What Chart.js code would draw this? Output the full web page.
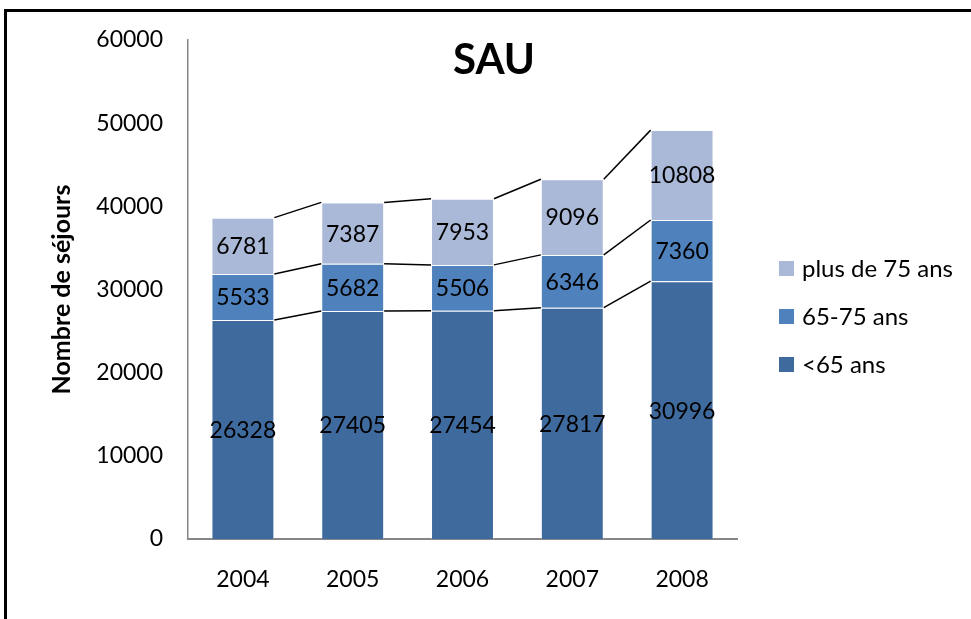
<!DOCTYPE html>
<html>
<head>
<meta charset="utf-8">
<script src="https://cdn.jsdelivr.net/npm/chart.js@4"></script>
<style>
  html, body { margin: 0; padding: 0; background: #fff; }
  #wrap { position: relative; width: 971px; height: 619px; overflow: hidden; }
  canvas { display: block; }
</style>
</head>
<body>
<div id="wrap"><canvas id="c" width="971" height="619"></canvas></div>
<script>
const years = ['2004', '2005', '2006', '2007', '2008'];
const under65 = [26328, 27405, 27454, 27817, 30996];
const age65to75 = [5533, 5682, 5506, 6346, 7360];
const over75 = [6781, 7387, 7953, 9096, 10808];
const seriesNames = ['<65 ans', '65-75 ans', 'plus de 75 ans'];
const seriesColors = ['#3F6A9E', '#4F81BD', '#AAB9D8'];
const chartTitle = 'SAU';
const yAxisTitle = 'Nombre de séjours';

const FONT = 'Lato, "Open Sans", sans-serif';

const framePlugin = {
  id: 'frame',
  beforeDraw(chart) {
    const ctx = chart.ctx;
    ctx.save();
    ctx.fillStyle = '#fff';
    ctx.fillRect(0, 0, chart.width, chart.height);
    ctx.fillStyle = '#000';
    ctx.fillRect(4, 9, 3, chart.height);
    ctx.fillRect(4, 9, chart.width, 3);
    ctx.restore();
  }
};

const seriesLinesPlugin = {
  id: 'seriesLines',
  afterDatasetsDraw(chart) {
    const ctx = chart.ctx;
    ctx.save();
    ctx.strokeStyle = '#000';
    ctx.lineWidth = 1.5;
    chart.data.datasets.forEach((ds, di) => {
      const meta = chart.getDatasetMeta(di);
      for (let i = 0; i < meta.data.length - 1; i++) {
        const a = meta.data[i], b = meta.data[i + 1];
        ctx.beginPath();
        ctx.moveTo(a.x + a.width / 2, a.y);
        ctx.lineTo(b.x - b.width / 2, b.y);
        ctx.stroke();
      }
    });
    ctx.restore();
  }
};

const dataLabelsPlugin = {
  id: 'dataLabels',
  afterDatasetsDraw(chart) {
    const ctx = chart.ctx;
    ctx.save();
    ctx.fillStyle = '#000';
    ctx.font = '23px ' + FONT;
    ctx.textAlign = 'center';
    ctx.textBaseline = 'middle';
    chart.data.datasets.forEach((ds, di) => {
      const meta = chart.getDatasetMeta(di);
      meta.data.forEach((bar, i) => {
        const cy = (bar.y + bar.base) / 2 + 1;
        ctx.fillText(String(ds.data[i]), bar.x, cy);
      });
    });
    ctx.restore();
  }
};

const titleAndLegendPlugin = {
  id: 'titleLegend',
  afterDraw(chart) {
    const ctx = chart.ctx;
    ctx.save();
    ctx.fillStyle = '#000';
    ctx.font = 'bold 42px ' + FONT;
    ctx.textAlign = 'center';
    ctx.textBaseline = 'middle';
    ctx.fillText(chartTitle, 494, 60);
    ctx.font = '24px ' + FONT;
    ctx.textAlign = 'left';
    const n = chart.data.datasets.length;
    for (let k = 0; k < n; k++) {
      const di = n - 1 - k;
      const ds = chart.data.datasets[di];
      const cy = 268.5 + k * 48;
      ctx.fillStyle = ds.backgroundColor;
      ctx.fillRect(779, cy - 7.5, 15, 15);
      ctx.fillStyle = '#000';
      ctx.fillText(ds.label, 802, cy + 1);
    }
    ctx.restore();
  }
};

const datasets = [under65, age65to75, over75].map((vals, i) => ({
  label: seriesNames[i],
  data: vals,
  backgroundColor: seriesColors[i],
  borderColor: 'rgba(255,255,255,0.3)',
  borderWidth: 1,
  categoryPercentage: 1.0,
  barPercentage: 0.573
}));

new Chart(document.getElementById('c'), {
  type: 'bar',
  data: { labels: years, datasets },
  options: {
    responsive: false,
    devicePixelRatio: 1,
    animation: false,
    layout: { padding: { left: 0, top: 40, right: 234, bottom: 0 } },
    plugins: {
      legend: { display: false },
      title: { display: false },
      tooltip: { enabled: false }
    },
    scales: {
      x: {
        stacked: true,
        grid: { display: false, drawTicks: false },
        border: { display: true, color: '#868686', width: 2 },
        ticks: { color: '#000', font: { family: FONT, size: 23 }, padding: 27 },
        afterFit(scale) { scale.height = 80; }
      },
      y: {
        stacked: true,
        min: 0,
        max: 60000,
        grid: { display: false, drawTicks: false },
        border: { display: true, color: '#868686', width: 1.5 },
        ticks: {
          stepSize: 10000, color: '#000', font: { family: FONT, size: 23 }, padding: 25,
          callback: (v) => String(v)
        },
        title: {
          display: true,
          text: yAxisTitle,
          color: '#000',
          font: { family: FONT, size: 25, weight: 'bold' },
          padding: { top: 47, bottom: 0 }
        },
        afterFit(scale) { scale.width = 188; }
      }
    }
  },
  plugins: [framePlugin, seriesLinesPlugin, dataLabelsPlugin, titleAndLegendPlugin]
});
</script>
</body>
</html>
